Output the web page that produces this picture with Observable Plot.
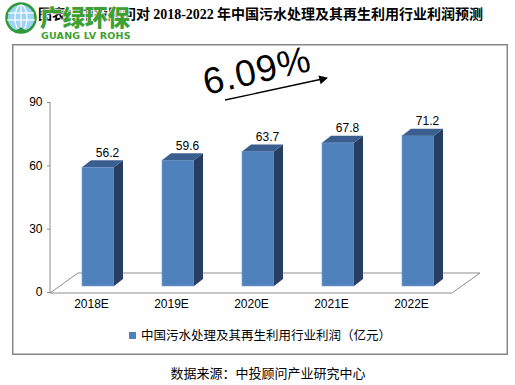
<!DOCTYPE html>
<html><head><meta charset="utf-8">
<script src="https://cdn.jsdelivr.net/npm/d3@7"></script>
<script src="https://cdn.jsdelivr.net/npm/@observablehq/plot@0.6"></script>
<style>
html,body{margin:0;padding:0;background:#fff;}
#wrap{position:relative;width:515px;height:385px;overflow:hidden;font-family:"Liberation Sans",Arial,sans-serif;background:#fff;}
#chart{position:absolute;left:0;top:0;}
.abs{position:absolute;white-space:nowrap;}
#title{left:38px;top:5px;font-size:14px;line-height:16px;font-weight:700;color:#000;font-family:"Noto Sans CJK SC",sans-serif;}
#title .n{font-family:"Liberation Serif",serif;}
#logo1{left:40px;top:5px;font-size:22.5px;line-height:23px;font-weight:900;color:#3ca032;font-family:"Noto Sans CJK SC",sans-serif;text-shadow:0 0 2px #fff,0 0 2px #fff,0 0 3px #fff;}
#logo2{left:41px;top:31px;font-size:9.5px;line-height:10px;font-weight:700;color:#3ca032;font-family:"DejaVu Sans",sans-serif;letter-spacing:0.2px;}
#legend{left:129px;top:327px;font-size:12.5px;line-height:16px;color:#000;font-family:"Noto Sans CJK SC",sans-serif;}
#legend i{display:inline-block;width:7px;height:7px;background:#4F81BD;margin-right:5px;vertical-align:1px;}
#source{left:0;width:536px;text-align:center;top:364px;font-size:13px;line-height:18px;color:#000;font-family:"Noto Sans CJK SC",sans-serif;}
#cagr{left:257px;top:71px;font-size:37px;line-height:40px;letter-spacing:1px;color:#000;transform:translate(-50%,-50%) rotate(-13deg);}
</style></head>
<body>
<div id="wrap">
  <div id="chart"></div>
  <svg class="abs" style="left:0;top:0" width="515" height="385">
    <rect x="12.75" y="44.75" width="494.5" height="309.5" fill="none" stroke="#868686" stroke-width="1.5"/>
    <line x1="225" y1="100" x2="320" y2="79.5" stroke="#000" stroke-width="1.3"/>
    <path d="M328,77.8 L318.5,75.6 L320.6,84.3 Z" fill="#000"/>
    <g transform="translate(21,18)">
      <circle r="14.5" fill="#9fd3f2" stroke="#2f9a3a" stroke-width="2.5"/>
      <ellipse rx="6" ry="13" fill="none" stroke="#fff" stroke-width="1.2"/>
      <line x1="0" y1="-13" x2="0" y2="13" stroke="#fff" stroke-width="1.2"/>
      <line x1="-13" y1="-5" x2="13" y2="-5" stroke="#fff" stroke-width="1.2"/>
      <line x1="-14" y1="2" x2="14" y2="2" stroke="#fff" stroke-width="1.2"/>
      <path d="M-13,6 Q-6,16 0,9 Q6,16 13,6 L10,12 Q0,18 -10,12 Z" fill="#2f9a3a"/>
    </g>
  </svg>
  <div id="title" class="abs">图表：中投顾问对 <span class="n">2018-2022</span> 年中国污水处理及其再生利用行业利润预测</div>
  <div id="logo1" class="abs">广绿环保</div>
  <div id="logo2" class="abs">GUANG LV ROHS</div>
  <div id="cagr" class="abs">6.09%</div>
  <div id="legend" class="abs"><i></i>中国污水处理及其再生利用行业利润（亿元）</div>
  <div id="source" class="abs">数据来源：中投顾问产业研究中心</div>
</div>
<script>
const years = ["2018E", "2019E", "2020E", "2021E", "2022E"];
const profits = [56.2, 59.6, 63.7, 67.8, 71.2];
const yTicks = [0, 30, 60, 90];

const data = years.map((year, i) => ({year, value: profits[i]}));

const BAR_DX = 7, BAR_DY = -6, DEPTH_X = 9, DEPTH_Y = -7;
const FLOOR_X = 28, FLOOR_Y = -20;

function floorAndAxis(index, scales) {
  const xs = scales.x, ys = scales.y;
  const [x0, x1] = xs.range();
  const y0 = ys(0) + 1;
  const g = d3.create("svg:g");
  g.append("path")
    .attr("d", `M${x0},${y0}L${x1},${y0}L${x1 + FLOOR_X},${y0 + FLOOR_Y}L${x0 + FLOOR_X},${y0 + FLOOR_Y}Z`)
    .attr("fill", "none").attr("stroke", "#8c8c8c").attr("stroke-width", 1);
  g.append("line")
    .attr("x1", x0).attr("x2", x0)
    .attr("y1", ys(d3.max(yTicks))).attr("y2", y0)
    .attr("stroke", "#8c8c8c").attr("stroke-width", 1);
  return g.node();
}

function barFaces(index, scales) {
  const xs = scales.x, ys = scales.y;
  const bw = xs.bandwidth();
  const g = d3.create("svg:g");
  for (const d of data) {
    const left = xs(d.year) + BAR_DX, right = left + bw;
    const top = ys(d.value) + BAR_DY, bottom = ys(0) + BAR_DY;
    g.append("path")
      .attr("d", `M${right},${top}L${right + DEPTH_X},${top + DEPTH_Y}L${right + DEPTH_X},${bottom + DEPTH_Y}L${right},${bottom}Z`)
      .attr("fill", "#263f60");
    g.append("path")
      .attr("d", `M${left},${top}L${left + DEPTH_X},${top + DEPTH_Y}L${right + DEPTH_X},${top + DEPTH_Y}L${right},${top}Z`)
      .attr("fill", "#3a5f8e");
  }
  return g.node();
}

const hasAxisMarks = typeof Plot.axisY === "function";

const marks = [
  floorAndAxis,
  Plot.barY(data, {x: "year", y: "value", fill: "#4F81BD", stroke: "#7fa3d3", strokeWidth: 0.6, dx: BAR_DX, dy: BAR_DY}),
  barFaces,
  Plot.text(data, {x: "year", y: "value", text: d => d.value.toFixed(1), dx: 16, dy: -21, fontSize: 12, fill: "#000"})
];
if (hasAxisMarks) {
  marks.push(
    Plot.axisY({ticks: yTicks, tickSize: 3, tickPadding: 5, stroke: "#8c8c8c", fill: "#000", fontSize: 12, label: null}),
    Plot.axisX({tickSize: 0, tickPadding: 7, fill: "#000", fontSize: 12, label: null})
  );
}

const chart = Plot.plot({
  width: 515,
  height: 385,
  marginTop: 102,
  marginBottom: 93,
  marginLeft: 50,
  marginRight: 63,
  style: {fontFamily: "Liberation Sans, Arial, sans-serif", fontSize: "12px", background: "transparent", color: "#000"},
  x: {domain: years, paddingInner: 0.6, paddingOuter: 0.3, label: null, ...(hasAxisMarks ? {} : {tickSize: 0, tickPadding: 7})},
  y: {domain: [0, 90], label: null, ...(hasAxisMarks ? {} : {ticks: yTicks, tickSize: 3, tickPadding: 5})},
  marks
});
document.getElementById("chart").appendChild(chart);
</script>
</body></html>
